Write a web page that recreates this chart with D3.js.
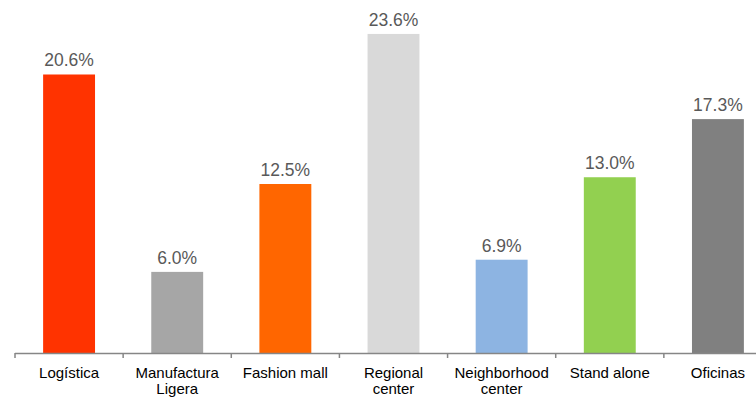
<!DOCTYPE html>
<html>
<head>
<meta charset="utf-8">
<style>
  body { margin: 0; background: #fff; }
  svg { display: block; font-family: "Liberation Sans", Arial, sans-serif; }
</style>
</head>
<body>
<script src="https://d3js.org/d3.v7.min.js"></script>
<script>
const categories = ["Logística", "Manufactura Ligera", "Fashion mall", "Regional center", "Neighborhood center", "Stand alone", "Oficinas"];
const values = [20.6, 6.0, 12.5, 23.6, 6.9, 13.0, 17.3];
const colors = ["#FF3300", "#A6A6A6", "#FF6600", "#D9D9D9", "#8DB4E2", "#92D050", "#808080"];

const w = 756, h = 399;
const base = 353;

const svg = d3.select("body").append("svg").attr("width", w).attr("height", h);

const x = d3.scaleBand().domain(categories).range([15, 772]).paddingInner(0.52).paddingOuter(0.26);
const y = d3.scaleLinear().domain([0, 26.11]).range([base, 0]);

svg.selectAll("rect.bar").data(values).enter().append("rect")
  .attr("class", "bar")
  .attr("x", (d, i) => x(categories[i]))
  .attr("y", d => y(d))
  .attr("width", x.bandwidth())
  .attr("height", d => base - y(d))
  .attr("fill", (d, i) => colors[i]);

svg.selectAll("text.val").data(values).enter().append("text")
  .attr("class", "val")
  .attr("x", (d, i) => x(categories[i]) + x.bandwidth() / 2)
  .attr("y", d => y(d) - 8)
  .attr("text-anchor", "middle")
  .attr("font-size", 17.5)
  .attr("fill", "#595959")
  .text(d => d.toFixed(1) + "%");

// axis line and ticks between categories
const step = x.step();
const tickPos = d3.range(categories.length + 1).map(i => 15 + i * step);
svg.append("line").attr("x1", 15).attr("x2", w).attr("y1", base + 0.5).attr("y2", base + 0.5)
  .attr("stroke", "#868686").attr("stroke-width", 1.5);
svg.selectAll("line.tick").data(tickPos).enter().append("line")
  .attr("class", "tick")
  .attr("x1", d => d).attr("x2", d => d)
  .attr("y1", base).attr("y2", base + 5)
  .attr("stroke", "#868686").attr("stroke-width", 1.5);

const lines = {
  "Manufactura Ligera": ["Manufactura", "Ligera"],
  "Regional center": ["Regional", "center"],
  "Neighborhood center": ["Neighborhood", "center"]
};
categories.forEach(c => {
  const parts = lines[c] || [c];
  parts.forEach((p, j) => {
    svg.append("text")
      .attr("x", x(c) + x.bandwidth() / 2)
      .attr("y", 378 + j * 16)
      .attr("text-anchor", "middle")
      .attr("font-size", 15)
      .attr("fill", "#000")
      .text(p);
  });
});
</script>
</body>
</html>
